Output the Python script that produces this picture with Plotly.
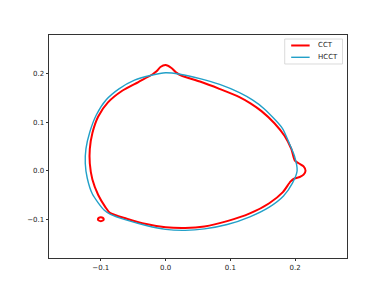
import plotly.graph_objects as go

# CCT contour (red)
cct_x = [0.216, 0.213, 0.206, 0.1995, 0.194, 0.1835, 0.168, 0.148, 0.131, 0.114, 0.083, 0.053,
         0.025, 0.016, 0.009, 0.000, -0.008, -0.014, -0.020, -0.042, -0.067, -0.089,
         -0.104, -0.113, -0.117, -0.117, -0.113, -0.104, -0.093, -0.086, -0.060, -0.030,
         0.000, 0.030, 0.060, 0.095, 0.130, 0.160, 0.181, 0.193, 0.199, 0.207, 0.213, 0.216]
cct_y = [0.000, 0.009, 0.015, 0.021, 0.045, 0.072, 0.098, 0.123, 0.139, 0.152, 0.169, 0.184,
         0.196, 0.203, 0.212, 0.218, 0.214, 0.205, 0.199, 0.183, 0.165, 0.141,
         0.112, 0.078, 0.045, 0.015, -0.018, -0.050, -0.075, -0.087, -0.099, -0.110,
         -0.1165, -0.118, -0.115, -0.104, -0.088, -0.067, -0.044, -0.022, -0.016, -0.013,
         -0.008, 0.000]

# small closed CCT island near (-0.1, -0.1)
island_x = [-0.0955, -0.0968, -0.1, -0.1032, -0.1045, -0.1032, -0.1, -0.0968, -0.0955]
island_y = [-0.1, -0.0972, -0.096, -0.0972, -0.1, -0.1028, -0.104, -0.1028, -0.1]

# HCCT contour (blue)
hcct_x = [0.203, 0.199, 0.191, 0.180, 0.152, 0.134, 0.114, 0.0835, 0.053, 0.022, 0.000,
          -0.022, -0.048, -0.072, -0.092, -0.107, -0.117, -0.123, -0.124, -0.121,
          -0.113, -0.095, -0.085, -0.060, -0.030, 0.000, 0.030, 0.060, 0.095, 0.130,
          0.160, 0.182, 0.196, 0.203]
hcct_y = [0.000, 0.030, 0.056, 0.088, 0.128, 0.146, 0.161, 0.178, 0.190, 0.199, 0.202,
          0.197, 0.187, 0.169, 0.146, 0.115, 0.080, 0.045, 0.015, -0.015,
          -0.048, -0.081, -0.090, -0.102, -0.113, -0.121, -0.123, -0.120, -0.111, -0.095,
          -0.075, -0.052, -0.025, 0.000]

tick_vals = [-0.1, 0.0, 0.1, 0.2]
tick_text = ["\u22120.1", "0.0", "0.1", "0.2"]
legend_names = ["CCT", "HCCT"]

RED = "#ff0000"
BLUE = "#22a0c8"
FONT = "DejaVu Sans"

fig = go.Figure()
fig.add_trace(go.Scatter(x=cct_x, y=cct_y, mode="lines", name=legend_names[0],
                         line=dict(color=RED, width=2, shape="spline", smoothing=0.7)))
fig.add_trace(go.Scatter(x=island_x, y=island_y, mode="lines", showlegend=False,
                         line=dict(color=RED, width=2, shape="spline", smoothing=1.0)))
fig.add_trace(go.Scatter(x=hcct_x, y=hcct_y, mode="lines", name=legend_names[1],
                         line=dict(color=BLUE, width=1.4, shape="spline", smoothing=0.7)))

axis_common = dict(showgrid=False, zeroline=False, showline=True, mirror=True,
                   linecolor="#333333", linewidth=0.8, ticks="outside", ticklen=2.5,
                   tickwidth=0.8, tickcolor="#333333", tickvals=tick_vals, ticktext=tick_text,
                   tickfont=dict(family=FONT, size=7, color="#222222"))

# compact legend drawn in paper coordinates (matplotlib-like)
box = dict(x0=0.791, x1=0.985, y0=0.870, y1=0.982)
rows_y = [0.953, 0.900]
colors = [RED, BLUE]
widths = [2, 1.4]
shapes = [dict(type="rect", xref="paper", yref="paper", **box,
               line=dict(color="#d0d0d0", width=0.8), fillcolor="white", layer="above")]
annotations = []
for name, yy, c, w in zip(legend_names, rows_y, colors, widths):
    shapes.append(dict(type="line", xref="paper", yref="paper", x0=0.8127, x1=0.8746,
                       y0=yy, y1=yy, line=dict(color=c, width=w), layer="above"))
    annotations.append(dict(xref="paper", yref="paper", x=0.896, y=yy, text=name,
                            showarrow=False, xanchor="left", yanchor="middle",
                            font=dict(family=FONT, size=7, color="#222222")))

fig.update_layout(
    width=378, height=282,
    margin=dict(l=40.5, r=38.5, t=27, b=32, pad=0),
    paper_bgcolor="white", plot_bgcolor="white",
    xaxis=dict(range=[-0.18, 0.28], **axis_common),
    yaxis=dict(range=[-0.18, 0.28], **axis_common),
    shapes=shapes, annotations=annotations,
    showlegend=False,
)

fig.write_html("out.html")
